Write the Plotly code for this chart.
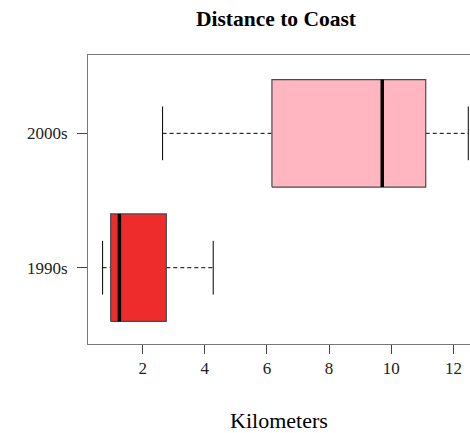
import plotly.graph_objects as go

categories = ["1990s", "2000s"]
positions = [1, 2]
lower_whisker = [0.71, 2.64]
q1 = [0.97, 6.16]
median = [1.25, 9.71]
q3 = [2.76, 11.11]
upper_whisker = [4.27, 12.48]
fill_colors = ["#EE2C2C", "#FFB6C1"]
x_ticks = [2, 4, 6, 8, 10, 12]

BOX_HALF = 0.4
CAP_HALF = 0.2
FONT = "Liberation Serif, Times New Roman, serif"

fig = go.Figure()
for i, p in enumerate(positions):
    # whiskers (dashed)
    fig.add_trace(go.Scatter(x=[lower_whisker[i], q1[i]], y=[p, p], mode="lines",
                             line=dict(color="black", width=1, dash="4px,3px"),
                             showlegend=False, hoverinfo="skip"))
    fig.add_trace(go.Scatter(x=[q3[i], upper_whisker[i]], y=[p, p], mode="lines",
                             line=dict(color="black", width=1, dash="4px,3px"),
                             showlegend=False, hoverinfo="skip"))
    # caps
    for w in (lower_whisker[i], upper_whisker[i]):
        fig.add_trace(go.Scatter(x=[w, w], y=[p - CAP_HALF, p + CAP_HALF], mode="lines",
                                 line=dict(color="black", width=1),
                                 showlegend=False, hoverinfo="skip"))
    # box
    fig.add_trace(go.Scatter(x=[q1[i], q3[i], q3[i], q1[i], q1[i]],
                             y=[p - BOX_HALF, p - BOX_HALF, p + BOX_HALF, p + BOX_HALF, p - BOX_HALF],
                             mode="lines", fill="toself", fillcolor=fill_colors[i],
                             line=dict(color="#4a4a4a", width=1.2),
                             showlegend=False, hoverinfo="skip"))
    # median
    fig.add_trace(go.Scatter(x=[median[i], median[i]], y=[p - BOX_HALF, p + BOX_HALF], mode="lines",
                             line=dict(color="black", width=3.5),
                             showlegend=False, hoverinfo="skip"))

fig.update_layout(
    width=470, height=433,
    margin=dict(l=88, r=0, t=55, b=89, autoexpand=False),
    plot_bgcolor="white", paper_bgcolor="white",
    font=dict(family=FONT, color="black"),
    title=dict(text="<b>Distance to Coast</b>", x=276 / 470, xanchor="center",
               y=1 - 18 / 433, yanchor="middle", font=dict(size=21.5, family=FONT)),
    xaxis=dict(range=[0.24, 12.535], tickvals=x_ticks, ticks="outside", ticklen=9,
               tickcolor="#444", tickwidth=1, showline=True, mirror=True,
               linecolor="#777", linewidth=1, showgrid=False, zeroline=False,
               tickfont=dict(size=17, family=FONT, color="#222"),
               title=dict(text="Kilometers", font=dict(size=22, family=FONT), standoff=35)),
    yaxis=dict(range=[0.432, 2.583], tickvals=positions, ticktext=categories,
               ticks="outside", ticklen=10, tickcolor="#444", tickwidth=1,
               showline=True, mirror=False, linecolor="#777", linewidth=1,
               showgrid=False, zeroline=False, ticklabelstandoff=6,
               tickfont=dict(size=17, family=FONT, color="#222")),
)

fig.write_html(
    "out.html",
    config={"displayModeBar": False},
    post_script="document.body.style.margin='0';document.body.style.overflow='hidden';",
)
